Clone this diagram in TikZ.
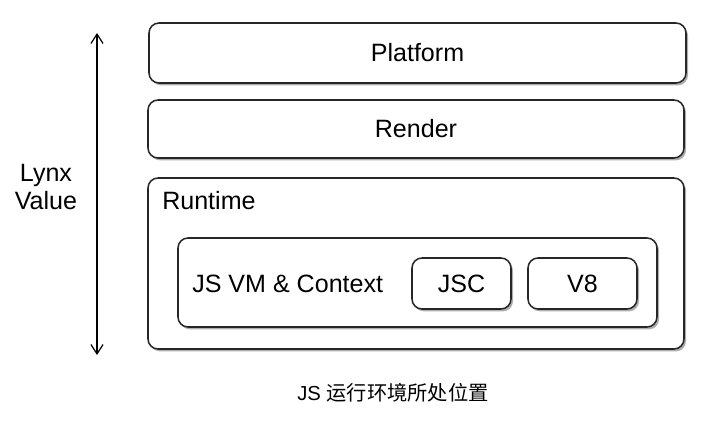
\documentclass[tikz,border=0pt]{standalone}
\usepackage{fontspec}
\setmainfont{Liberation Sans}
\newfontfamily\cjk{Noto Sans CJK SC}
\usetikzlibrary{shadows,arrows.meta}
\begin{document}
\begin{tikzpicture}[x=0.75pt,y=-0.75pt,
  box/.style={draw=black!85, line width=1.15pt, rounded corners=7.5pt, fill=white, inner sep=0pt,
    drop shadow={shadow xshift=1.5pt, shadow yshift=-1.8pt, opacity=0.45, fill=black!70}},
  lbl/.style={font=\fontsize{18.8}{22}\selectfont, inner sep=0pt},
  every node/.append style={text=black}]
\useasboundingbox (0,0) rectangle (714,428);
\node[box, minimum width=537*0.75pt, minimum height=60*0.75pt] (platform) at (417.5,53) {};
\node[lbl] (platformt) at (platform.center) {Platform};
\node[box, minimum width=536*0.75pt, minimum height=58*0.75pt] (render) at (416,129) {};
\node[lbl] (rendert) at (render.center) {Render};
\node[box, minimum width=536*0.75pt, minimum height=171*0.75pt] (runtime) at (416,263.5) {};
\node[lbl, anchor=west] (runtimet) at (162,201) {Runtime};
\node[box, minimum width=479*0.75pt, minimum height=89*0.75pt] (vm) at (417.5,282.5) {};
\node[lbl, anchor=west] (vmt) at (192,284) {JS VM \& Context};
\node[box, minimum width=99*0.75pt, minimum height=51*0.75pt] (jsc) at (461.5,283.5) {};
\node[lbl] (jsct) at (jsc.center) {JSC};
\node[box, minimum width=109*0.75pt, minimum height=51*0.75pt] (v8) at (582.5,283.5) {};
\node[lbl] (v8t) at (v8.center) {V8};
\coordinate (atop) at (97,33);
\coordinate (abot) at (97,355);
\draw[line width=0.9pt, {Straight Barb[length=7pt,width=9pt]}-{Straight Barb[length=7pt,width=9pt]}] (atop) -- (abot);
\node[lbl, align=center, font=\fontsize{18.8}{21}\selectfont] (lynx) at (46,187) {Lynx\\Value};
\node[inner sep=0pt, font=\fontsize{15.2}{18}\selectfont] (caption) at (393,393) {JS {\cjk 运行环境所处位置}};
\end{tikzpicture}
\end{document}
